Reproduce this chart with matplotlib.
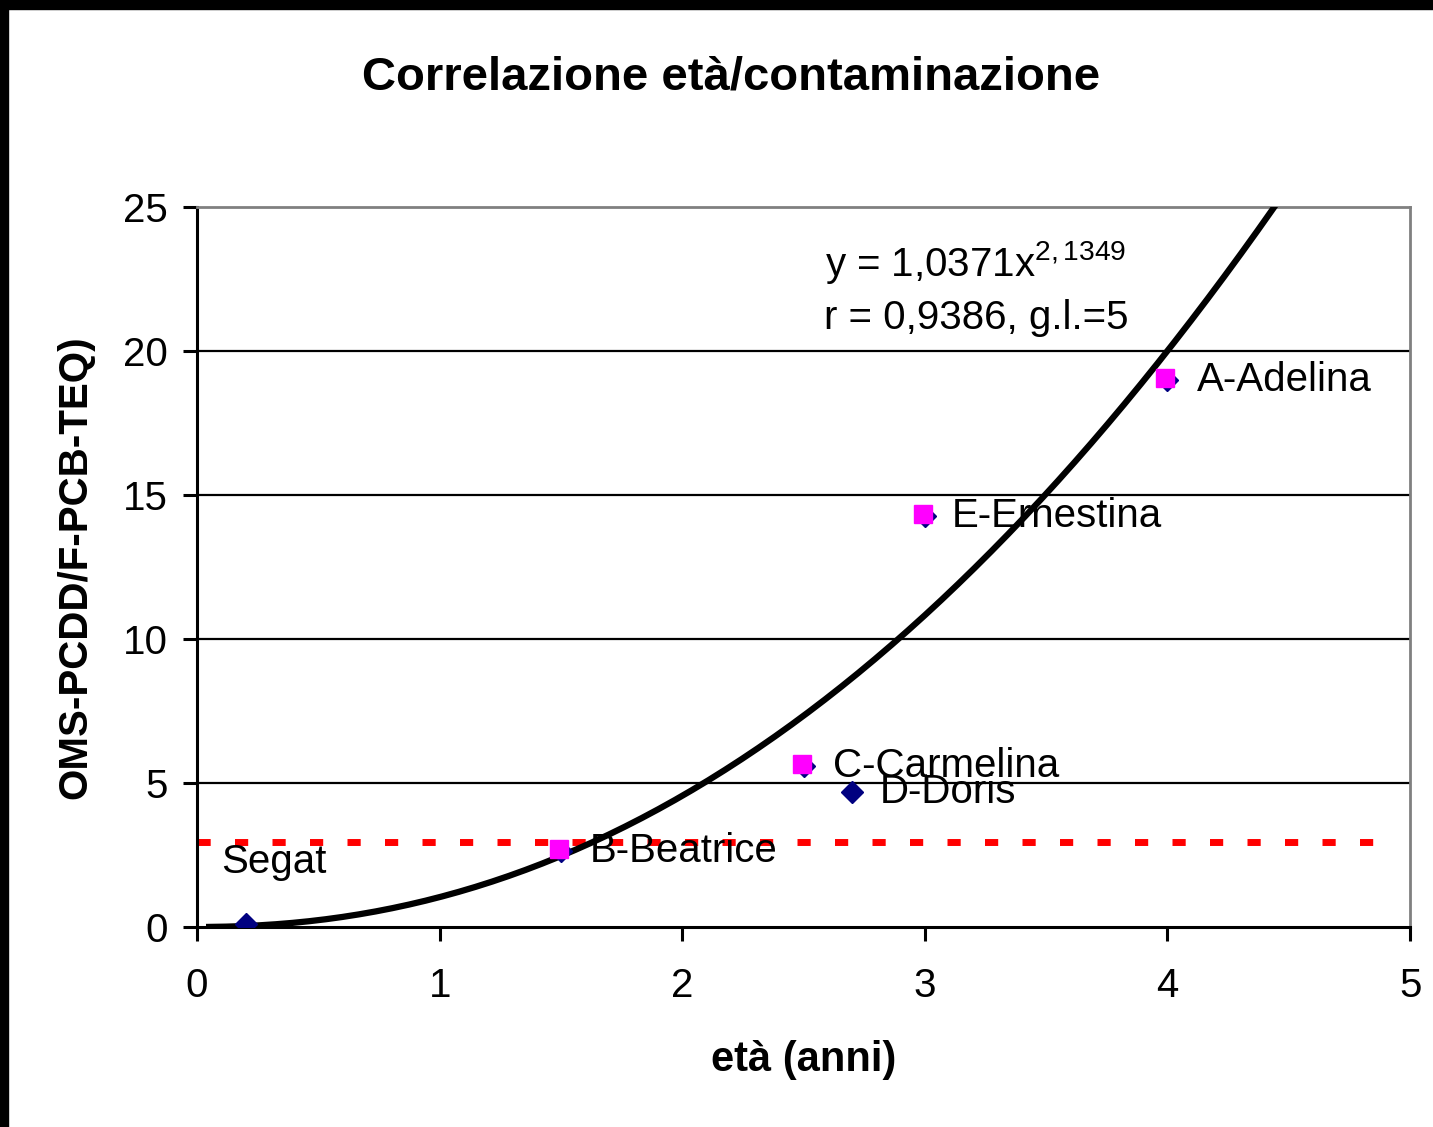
import numpy as np
import matplotlib
matplotlib.use("Agg")
import matplotlib.pyplot as plt
import matplotlib.transforms as mtransforms
from matplotlib.patches import Rectangle

plt.rcParams['font.family'] = ['Liberation Sans', 'DejaVu Sans']
plt.rcParams['mathtext.fontset'] = 'custom'
plt.rcParams['mathtext.rm'] = 'Liberation Sans'
plt.rcParams['mathtext.it'] = 'Liberation Sans'

# samples (eta in anni, OMS-PCDD/F-PCB-TEQ)
names = ['Segat', 'B-Beatrice', 'C-Carmelina', 'D-Doris', 'E-Ernestina', 'A-Adelina']
age = [0.2, 1.5, 2.5, 2.7, 3.0, 4.0]
teq = [0.1, 2.64, 5.6, 4.69, 14.27, 19.0]

# second series (magenta squares)
age_m = [1.5, 2.5, 3.0, 4.0]
teq_m = [2.64, 5.6, 14.27, 19.0]

# label anchors
label_x = [0.10, 1.62, 2.62, 2.815, 3.11, 4.12]
label_y = [2.25, 2.64, 5.6, 4.69, 14.27, 19.0]

# power trendline from the chart: y = 1,0371 x^2,1349
coef_a = 1.0371
coef_b = 2.1349
trend_x = np.linspace(0.05, 4.6, 200)

# limit line
limit_x = [0.0, 4.9]
limit_y = [2.95, 2.95]

fig = plt.figure(figsize=(14.33, 11.27), dpi=100)
ax = fig.add_axes([0.1375, 0.1775, 0.8465, 0.6388])

ax.set_xlim(0, 5)
ax.set_ylim(0, 25)
ax.set_yticks([0, 5, 10, 15, 20, 25])
ax.set_xticks([0, 1, 2, 3, 4, 5])

for yy in [5, 10, 15, 20]:
    ax.axhline(yy, color='black', lw=1.6, zorder=1)

ax.plot(limit_x, limit_y, color='#ff0000', lw=5, dashes=(1.9, 3.5),
        dash_capstyle='butt', zorder=2)

ax.plot(trend_x, coef_a * trend_x ** coef_b, color='black', lw=4.5, zorder=3)

ax.plot(age, teq, linestyle='none', marker='D', ms=11, color='#000080', zorder=4)
off = mtransforms.offset_copy(ax.transData, fig=fig, x=-2, y=2, units='dots')
ax.plot(age_m, teq_m, linestyle='none', marker='s', ms=12.5, color='#ff00ff',
        transform=off, zorder=5)

for nm, lx, ly in zip(names, label_x, label_y):
    ax.text(lx, ly, nm, fontsize=29, ha='left', va='center', zorder=6)

ax.text(3.21, 23.06, r'y = 1,0371x$^{2,1349}$', fontsize=29, ha='center', va='center')
ax.text(3.21, 21.15, 'r = 0,9386, g.l.=5', fontsize=29, ha='center', va='center')

for s in ['top', 'right']:
    ax.spines[s].set_color('#808080')
    ax.spines[s].set_linewidth(2)
for s in ['left', 'bottom']:
    ax.spines[s].set_color('black')
    ax.spines[s].set_linewidth(2.2)

ax.tick_params(axis='both', direction='out', length=10, width=2.2, labelsize=29)
ax.tick_params(axis='y', pad=11)
ax.tick_params(axis='x', pad=19)

ax.set_xlabel('età (anni)', fontsize=30, fontweight='bold', va='center')
ax.xaxis.set_label_coords(0.5, -0.185)
ax.set_ylabel('OMS-PCDD/F-PCB-TEQ)', fontsize=29, fontweight='bold', va='center')
ax.yaxis.set_label_coords(-0.1006, 0.5)

fig.text(0.51, 0.931, 'Correlazione età/contaminazione', fontsize=34,
         fontweight='bold', ha='center', va='center')

# black frame at top and left edge
fig.add_artist(Rectangle((0, 1 - 9 / 1127), 1, 9 / 1127, transform=fig.transFigure,
                         color='black', zorder=10))
fig.add_artist(Rectangle((0, 0), 8 / 1433, 1, transform=fig.transFigure,
                         color='black', zorder=10))

fig.savefig('out.png', dpi=100)
